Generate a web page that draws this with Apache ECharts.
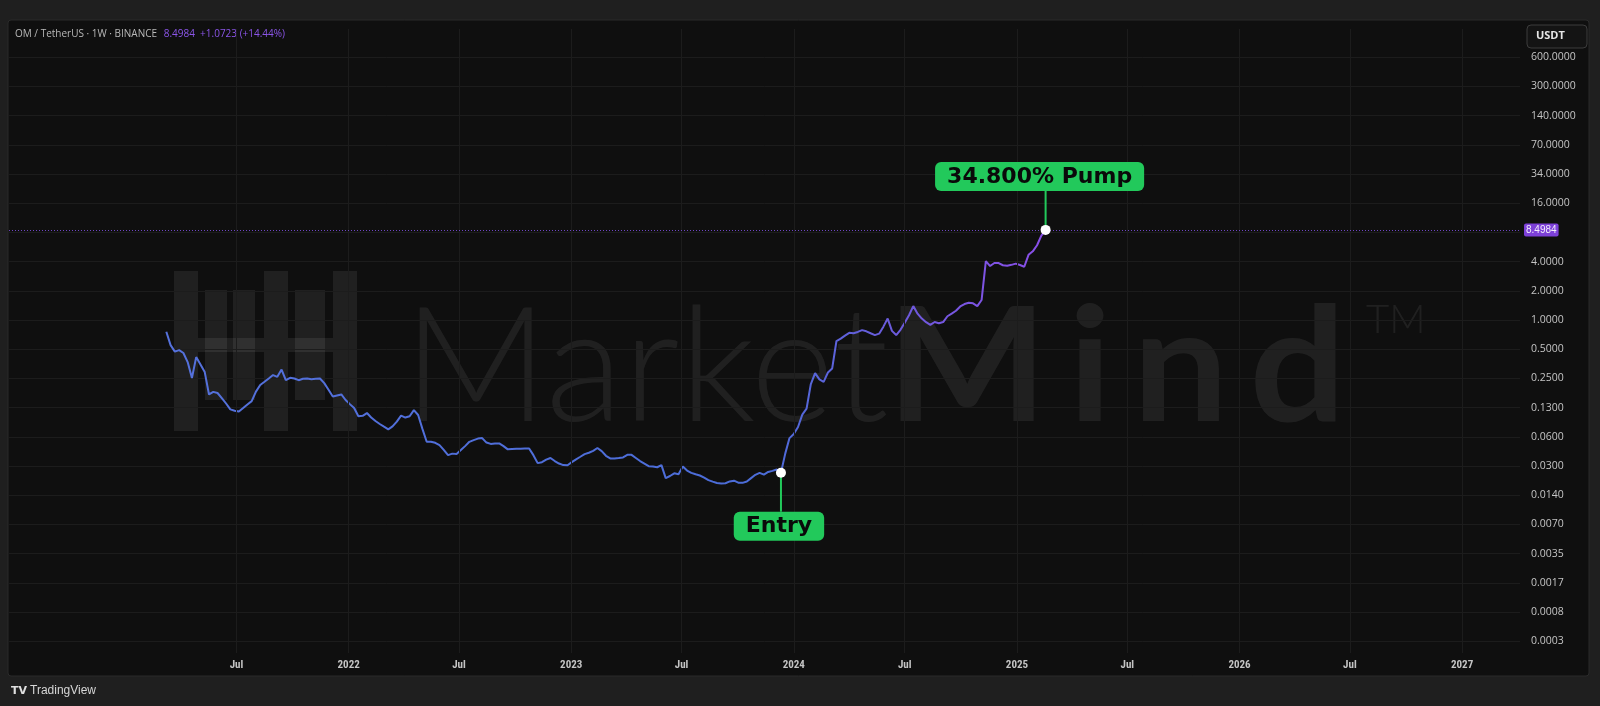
<!DOCTYPE html>
<html><head><meta charset="utf-8">
<script src="https://cdn.jsdelivr.net/npm/echarts@6/dist/echarts.min.js"></script>
<style>html,body{margin:0;padding:0;background:#1f1f1f;}#c{width:1600px;height:706px;}</style>
</head><body><div id="c"></div>
<script>
// ---- data ----
const firstWeek = '2021-03-08'; // weekly closes start (Monday)
const closes = [
  0.758, 0.552, 0.473, 0.490, 0.457, 0.369, 0.253, 0.415, 0.348, 0.291,
  0.171, 0.182, 0.177, 0.157, 0.138, 0.120, 0.1164, 0.114, 0.124, 0.135,
  0.146, 0.183, 0.214, 0.231, 0.250, 0.271, 0.260, 0.309, 0.240, 0.254,
  0.250, 0.240, 0.248, 0.250, 0.245, 0.248, 0.250, 0.224, 0.191, 0.163,
  0.167, 0.171, 0.150, 0.136, 0.124, 0.102, 0.103, 0.110, 0.0989, 0.0910,
  0.0848, 0.0796, 0.0748, 0.0801, 0.0899, 0.1036, 0.0989, 0.102, 0.118, 0.105,
  0.0755, 0.0556, 0.0556, 0.0543, 0.0514, 0.0459, 0.0405, 0.0420, 0.0417, 0.0457,
  0.0502, 0.0556, 0.0579, 0.0600, 0.0607, 0.0546, 0.0529, 0.0535, 0.0535, 0.0502,
  0.0465, 0.0469, 0.0471, 0.0472, 0.0474, 0.0475, 0.0405, 0.0335, 0.0343, 0.0364,
  0.0379, 0.0352, 0.0332, 0.0320, 0.0319, 0.0343, 0.0367, 0.0390, 0.0415, 0.0429,
  0.0449, 0.0480, 0.0446, 0.0399, 0.0375, 0.0375, 0.0378, 0.0384, 0.0408, 0.0408,
  0.0379, 0.0352, 0.0332, 0.0312, 0.0309, 0.0304, 0.0320, 0.0235, 0.0247, 0.0263,
  0.0258, 0.0309, 0.0281, 0.0266, 0.0257, 0.0250, 0.0238, 0.0224, 0.0216, 0.0209,
  0.0207, 0.0208, 0.0217, 0.0221, 0.0211, 0.0210, 0.0217, 0.0235, 0.0254, 0.0266,
  0.0255, 0.0272, 0.0279, 0.0288, 0.0267, 0.0420, 0.0607, 0.0668, 0.0790, 0.106,
  0.122, 0.219, 0.284, 0.245, 0.231, 0.288, 0.317, 0.608, 0.643, 0.692,
  0.738, 0.731, 0.754, 0.787, 0.766, 0.731, 0.700, 0.724, 0.855, 1.036,
  0.774, 0.700, 0.794, 0.938, 1.121, 1.394, 1.164, 1.036, 0.951, 0.892,
  0.954, 0.927, 0.954, 1.094, 1.164, 1.247, 1.381, 1.462, 1.508, 1.487,
  1.394, 1.608, 4.058, 3.603, 3.869, 3.869, 3.673, 3.621, 3.707, 3.816,
  3.690, 3.544, 4.701, 5.109, 5.904, 7.426, 8.4984
];
const annotWeekIndex = [144, 206];
const annotLabels = ['Entry', '34.800% Pump'];
const annotSide = ['below', 'above'];
const lastPrice = 8.4984;
const headerSymbol = 'OM / TetherUS · 1W · BINANCE';
const headerQuote = '8.4984  +1.0723 (+14.44%)';
const quoteUnit = 'USDT';
const yTickMinExp = -11; // ticks at powers of two, 2^-11 ... 2^9
const yTickLabels = ['0.0003', '0.0008', '0.0017', '0.0035', '0.0070', '0.0140', '0.0300', '0.0600',
  '0.1300', '0.2500', '0.5000', '1.0000', '2.0000', '4.0000', '', '16.0000', '34.0000', '70.0000',
  '140.0000', '300.0000', '600.0000'];
const xTickDates = ['2021-07-01', '2022-01-01', '2022-07-01', '2023-01-01', '2023-07-01', '2024-01-01',
  '2024-07-01', '2025-01-01', '2025-07-01', '2026-01-01', '2026-07-01', '2027-01-01'];
const xTickLabels = ['Jul', '2022', 'Jul', '2023', 'Jul', '2024', 'Jul', '2025', 'Jul', '2026', 'Jul', '2027'];
const xMin = '2020-06-23', xMax = '2027-04-06';
const yMin = 0.00037, yMax = 1000;

// ---- build ----
const DAY = 86400000;
const toTime = s => { const [y, m, d] = s.split('-').map(Number); return new Date(y, m - 1, d).getTime(); };
const t0 = toTime(firstWeek);
const weekTime = i => { const d = new Date(t0); d.setDate(d.getDate() + 7 * i); return d.getTime(); };
const lineData = closes.map((v, i) => [weekTime(i), v]);
const annotData = annotWeekIndex.map((w, i) => [weekTime(w), closes[w], i]);
const xTickTimes = xTickDates.map(toTime);
const yTickValues = yTickLabels.map((_, i) => Math.pow(2, yTickMinExp + i));

const GREEN = '#22c95b';
const GRIDC = '#1c1c1c';
const WM = 'rgba(255,255,255,0.075)';
const chart = echarts.init(document.getElementById('c'), null, {renderer: 'canvas'});

const logoBars = [
  [174, 271, 24, 160], [264, 271, 24, 160], [333, 271, 24, 160],
  [205, 290, 22, 110], [233, 290, 22, 110], [295, 290, 30, 110]
];

chart.setOption({
  backgroundColor: '#1f1f1f',
  animation: false,
  grid: {left: 9, right: 80, top: 29, bottom: 53},
  xAxis: {
    type: 'time', min: toTime(xMin), max: toTime(xMax),
    minInterval: 183 * DAY, maxInterval: 183 * DAY,
    axisLine: {show: false},
    axisTick: {show: false},
    splitLine: {show: false},
    axisLabel: {
      color: '#c4c4c4', fontSize: 11, fontWeight: 'bold', margin: 7,
      fontFamily: '"Liberation Sans Narrow", "Roboto Condensed", "Liberation Sans", sans-serif',
      formatter: v => {
        const i = xTickTimes.findIndex(t => Math.abs(t - v) < DAY / 2);
        return i < 0 ? '' : xTickLabels[i];
      }
    }
  },
  yAxis: {
    type: 'log', logBase: 2, min: yMin, max: yMax, position: 'right',
    axisLine: {show: false},
    axisTick: {show: false, customValues: yTickValues},
    splitLine: {show: true, lineStyle: {color: GRIDC, width: 1}},
    axisLabel: {
      customValues: yTickValues,
      color: '#c4c4c4', fontSize: 10.5, margin: 11, fontFamily: '"Open Sans", "Liberation Sans", sans-serif',
      formatter: v => {
        const i = yTickValues.findIndex(t => Math.abs(Math.log2(t) - Math.log2(v)) < 1e-6);
        return i < 0 ? '' : yTickLabels[i];
      }
    }
  },
  graphic: [
    {type: 'rect', z: -20, shape: {x: 8, y: 20, width: 1581, height: 656, r: 3},
      style: {fill: '#0f0f0f', stroke: '#2b2b2b', lineWidth: 1}},
    // watermark logo
    ...logoBars.map(b => ({type: 'rect', z: -10, shape: {x: b[0], y: b[1], width: b[2], height: b[3]}, style: {fill: WM}})),
    {type: 'rect', z: -10, shape: {x: 198, y: 338, width: 66, height: 14}, style: {fill: WM}},
    {type: 'rect', z: -10, shape: {x: 288, y: 338, width: 45, height: 14}, style: {fill: WM}},
    {type: 'text', z: -10, left: 403, top: 289, style: {
      text: 'Market', fill: WM, fontFamily: 'Lato', fontWeight: 300, fontSize: 160
    }},
    {type: 'text', z: -10, x: 887, y: 289, scaleX: 1.06, style: {
      text: '{m|M}{p|i}{p|n}{p|d}', fill: WM, align: 'left', verticalAlign: 'top',
      rich: {
        m: {fontFamily: 'Lato', fontWeight: 700, fontSize: 160, fill: WM},
        p: {fontFamily: 'Lato', fontWeight: 700, fontSize: 160, fill: WM, padding: [0, 0, 0, 20]}
      }
    }},
    {type: 'text', z: -10, left: 1366, top: 300, style: {text: 'TM', fontFamily: 'Lato', fontWeight: 300, fontSize: 40, fill: WM}},
    // header
    {type: 'text', left: 15, top: 28, style: {
      text: '{a|' + headerSymbol + '}  {b|' + headerQuote + '}',
      rich: {
        a: {fill: '#b8b8b8', fontSize: 10, fontFamily: '"Open Sans", sans-serif'},
        b: {fill: '#8b55e8', fontSize: 10, fontFamily: '"Open Sans", sans-serif'}
      }
    }},
    // unit box
    {type: 'rect', shape: {x: 1527, y: 25, width: 60, height: 23, r: 4},
      style: {fill: '#141414', stroke: '#3c3c3c', lineWidth: 1}},
    {type: 'text', left: 1536, top: 30, style: {text: quoteUnit, fill: '#e6e6e6', fontSize: 11, fontWeight: 'bold', fontFamily: '"Open Sans", sans-serif'}},
    // footer
    {type: 'text', left: 11, top: 686, style: {text: 'TV', fill: '#e0e0e0', fontSize: 11, fontWeight: 'bold', fontFamily: 'DejaVu Sans'}},
    {type: 'text', left: 30, top: 685, style: {text: 'TradingView', fill: '#d6d6d6', fontSize: 12, fontFamily: '"Liberation Sans Narrow", "Liberation Sans", sans-serif'}}
  ],
  series: [
    {
      // vertical grid lines at the labelled time ticks
      type: 'line', data: [], z: 1, silent: true,
      markLine: {
        silent: true, symbol: ['none', 'none'], label: {show: false},
        lineStyle: {color: GRIDC, type: 'solid', width: 1},
        data: xTickTimes.map(t => ({xAxis: t}))
      }
    },
    {
      type: 'line', data: lineData, showSymbol: false, symbol: 'none',
      lineStyle: {width: 2, color: new echarts.graphic.LinearGradient(0, 0, 1, 0, [
        {offset: 0, color: '#5571dc'}, {offset: 0.68, color: '#4b6cd8'},
        {offset: 0.82, color: '#6a5bdc'}, {offset: 1, color: '#8a4ee8'}
      ])},
      markLine: {
        silent: true, symbol: ['none', 'none'],
        lineStyle: {color: '#7a4ed8', type: [1, 2], width: 1, opacity: 0.9},
        label: {show: true, position: 'end', formatter: () => lastPrice.toFixed(4), color: '#fff',
          backgroundColor: '#8a46ee', padding: [2, 2, 1, 2], fontSize: 10, borderRadius: 2,
          fontFamily: '"Liberation Sans Narrow", "Liberation Sans", sans-serif', distance: 4},
        data: [{yAxis: lastPrice}]
      },
      z: 3
    },
    {
      type: 'custom', data: annotData, z: 5,
      encode: {x: 0, y: 1},
      renderItem: (params, api) => {
        const i = api.value(2);
        const p = api.coord([api.value(0), api.value(1)]);
        const dir = annotSide[i] === 'above' ? -1 : 1;
        const stem = 39;
        const ey = p[1] + dir * stem;
        return {type: 'group', children: [
          {type: 'line', shape: {x1: p[0], y1: p[1], x2: p[0], y2: ey}, style: {stroke: GREEN, lineWidth: 2}},
          {type: 'text', x: p[0] - (dir < 0 ? 6 : 2), y: ey, style: {
            text: annotLabels[i], fill: '#0a0a0a', fontSize: 22, fontWeight: 'bold', fontFamily: 'DejaVu Sans',
            backgroundColor: GREEN, padding: [4, 12, 3, 12], borderRadius: 6,
            align: 'center', verticalAlign: dir < 0 ? 'bottom' : 'top'
          }},
          {type: 'circle', shape: {cx: p[0], cy: p[1], r: 5}, style: {fill: '#ffffff'}}
        ]};
      }
    }
  ]
});
</script></body></html>
